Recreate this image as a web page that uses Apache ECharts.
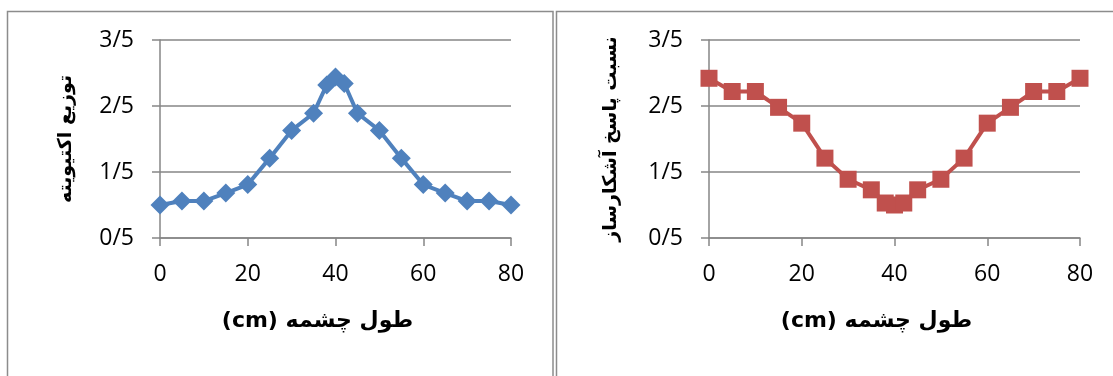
<!DOCTYPE html>
<html><head><meta charset="utf-8">
<script src="https://cdn.jsdelivr.net/npm/echarts@6/dist/echarts.min.js"></script>
<style>html,body{margin:0;padding:0;background:#fff}#c{width:1113px;height:376px}</style>
</head><body><div id="c"></div>
<script>
const xPositions = [0, 5, 10, 15, 20, 25, 30, 35, 38, 40, 42, 45, 50, 55, 60, 65, 70, 75, 80];
const activityValues = [1.0, 1.06, 1.06, 1.18, 1.31, 1.71, 2.13, 2.39, 2.82, 2.94, 2.84, 2.39, 2.13, 1.71, 1.31, 1.18, 1.06, 1.06, 1.0];
const responseValues = [2.92, 2.72, 2.72, 2.48, 2.24, 1.71, 1.39, 1.23, 1.03, 1.0, 1.03, 1.23, 1.39, 1.71, 2.24, 2.48, 2.72, 2.72, 2.92];
const yTickValues = [0.5, 1.5, 2.5, 3.5];
const yTickLabels = ['0/5', '1/5', '2/5', '3/5'];
const xTitle = '(cm) طول چشمه';
const leftYTitle = 'توزیع اکتیویته';
const rightYTitle = 'نسبت پاسخ آشکارساز';

const GREY = '#868686';
const tickFont = 'Open Sans';
const titleFont = 'DejaVu Sans';

function yLabel(v) {
  const i = yTickValues.findIndex(t => Math.abs(t - v) < 1e-6);
  return i >= 0 ? yTickLabels[i] : '';
}

function xAxis(idx) {
  return {
    type: 'value', gridIndex: idx, min: 0, max: 80, interval: 20,
    name: xTitle, nameLocation: 'middle', nameGap: 72,
    nameTextStyle: { fontFamily: titleFont, fontWeight: 'bold', fontSize: 22, color: '#000', padding: [0, 36, 0, 0] },
    axisLine: { show: true, lineStyle: { color: GREY, width: 1.5 } },
    axisTick: { show: true, length: 8, lineStyle: { color: GREY, width: 1.5 } },
    axisLabel: { margin: 25, fontFamily: tickFont, fontSize: 23, color: '#000' },
    splitLine: { show: false }
  };
}
function yAxis(idx, title, gap) {
  return {
    type: 'value', gridIndex: idx, min: 0.5, max: 3.5, interval: 1,
    name: title, nameLocation: 'middle', nameGap: gap, nameRotate: 90,
    nameTextStyle: { fontFamily: titleFont, fontWeight: 'bold', fontSize: 19, color: '#000' },
    axisLine: { show: true, lineStyle: { color: GREY, width: 1.5 } },
    axisTick: { show: true, length: 8, lineStyle: { color: GREY, width: 1.5 } },
    axisLabel: { margin: 26, fontFamily: tickFont, fontSize: 23, color: '#000', formatter: yLabel },
    splitLine: { show: true, lineStyle: { color: GREY, width: 1.5 } }
  };
}

const chart = echarts.init(document.getElementById('c'), null, { renderer: 'canvas' });
chart.setOption({
  animation: false,
  backgroundColor: '#fff',
  graphic: [
    { type: 'rect', shape: { x: 7.5, y: 11.5, width: 545.5, height: 400 }, style: { fill: 'none', stroke: '#8c8c8c', lineWidth: 1.5 }, silent: true },
    { type: 'rect', shape: { x: 556.5, y: 11.5, width: 600, height: 400 }, style: { fill: 'none', stroke: '#8c8c8c', lineWidth: 1.5 }, silent: true }
  ],
  grid: [
    { left: 160, top: 40, width: 351, height: 198 },
    { left: 709, top: 40, width: 371, height: 198 }
  ],
  xAxis: [xAxis(0), xAxis(1)],
  yAxis: [yAxis(0, leftYTitle, 84), yAxis(1, rightYTitle, 88)],
  series: [
    {
      type: 'line', xAxisIndex: 0, yAxisIndex: 0,
      data: xPositions.map((x, i) => [x, activityValues[i]]),
      symbol: 'diamond', symbolSize: 19,
      lineStyle: { color: '#4F81BD', width: 4 },
      itemStyle: { color: '#4F81BD' }
    },
    {
      type: 'line', xAxisIndex: 1, yAxisIndex: 1,
      data: xPositions.map((x, i) => [x, responseValues[i]]),
      symbol: 'rect', symbolSize: 17,
      lineStyle: { color: '#C0504D', width: 4 },
      itemStyle: { color: '#C0504D' }
    }
  ]
});
</script>
</body></html>
